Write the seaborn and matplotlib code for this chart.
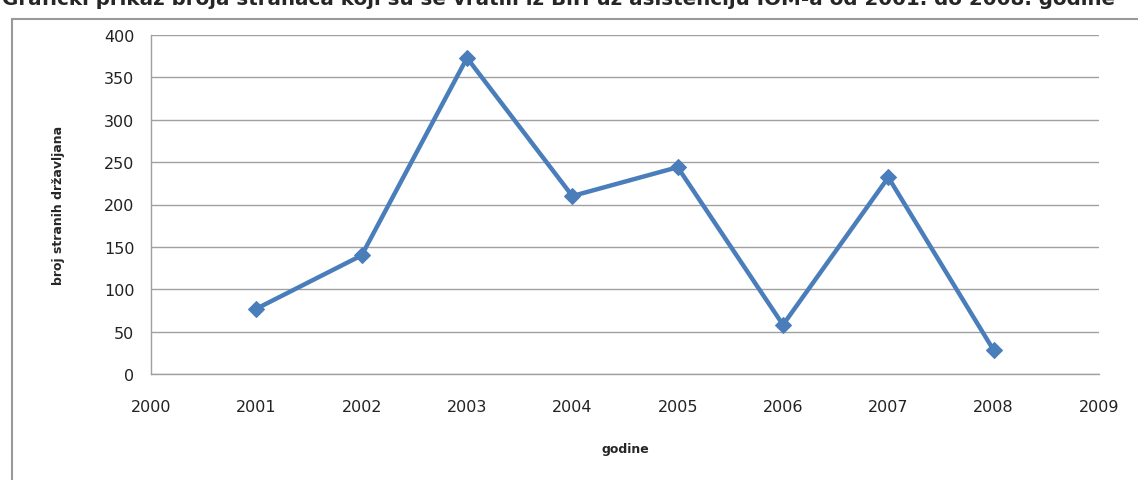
import matplotlib
matplotlib.use("Agg")
import matplotlib.pyplot as plt
import seaborn as sns
import pandas as pd
from matplotlib.patches import Rectangle

# podaci očitani sa grafikona
godine = [2001, 2002, 2003, 2004, 2005, 2006, 2007, 2008]
broj_stranaca = [77, 140, 373, 210, 244, 58, 232, 28]
x_ticks = list(range(2000, 2010))
y_ticks = [0, 50, 100, 150, 200, 250, 300, 350, 400]

naslov = "Grafički prikaz broja stranaca koji su se vratili iz BiH uz asistenciju IOM-a od 2001. do 2008. godine"

df = pd.DataFrame({"godine": godine, "broj": broj_stranaca})

sns.set_style("white")
plt.rcParams["font.family"] = ["DejaVu Sans"]

W, H = 1138, 481
fig = plt.figure(figsize=(W / 100, H / 100), dpi=100)
ax = fig.add_axes([151 / W, 1 - 375 / H, (1099 - 151) / W, (375 - 36) / H])

sns.lineplot(data=df, x="godine", y="broj", ax=ax, color="#4a7ebb", linewidth=3.2,
             marker="D", markersize=8, markeredgecolor="#4a7ebb")

ax.set_xlim(2000, 2009)
ax.set_ylim(0, 400)
ax.set_xticks(x_ticks)
ax.set_yticks(y_ticks)
ax.yaxis.grid(True, color="#a0a0a0", linewidth=1)
ax.set_axisbelow(True)
for s in ["top", "right"]:
    ax.spines[s].set_visible(False)
for s in ["left", "bottom"]:
    ax.spines[s].set_color("#a0a0a0")
    ax.spines[s].set_linewidth(1)
ax.tick_params(axis="both", direction="out", length=8, width=1, color="#a0a0a0",
               labelsize=11.5, labelcolor="#222222")
ax.tick_params(axis="x", pad=10)
ax.tick_params(axis="y", pad=4)

ax.set_xlabel("godine", fontsize=9, fontweight="bold", labelpad=20)
ax.set_ylabel("broj stranih državljana", fontsize=9, fontweight="bold", labelpad=28)

# okvir grafikona
fig.patches.append(Rectangle((12 / W, -0.1), 1.2, 1 - 20 / H + 0.1, transform=fig.transFigure,
                             fill=False, edgecolor="#999999", linewidth=1.5, clip_on=False))

# naslov (odsječen na vrhu kao u originalu)
fig.text(2 / W, 1 - 5 / H, naslov, fontsize=14.3, fontweight="bold", ha="left", va="baseline")

fig.savefig("out.png", dpi=100)
